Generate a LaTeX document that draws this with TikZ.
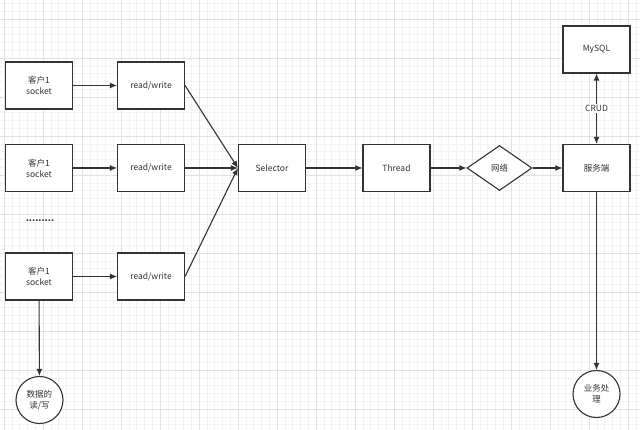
\documentclass[tikz,border=0pt]{standalone}
\usepackage{fontspec}
\setmainfont{Noto Sans CJK SC}
\usetikzlibrary{arrows.meta,shapes.geometric}
\definecolor{ink}{HTML}{333333}
\definecolor{gridminor}{HTML}{F3F3F3}
\definecolor{gridmajor}{HTML}{E2E2E2}
\tikzset{
  lbl/.style={font=\fontsize{8.5}{11}\selectfont, text=ink},
  box/.style={draw=ink, line width=1.1pt, fill=white, minimum width=67pt, minimum height=47pt, inner sep=0pt, align=center, lbl},
  circ/.style={draw=ink, line width=1.1pt, fill=white, circle, minimum size=47pt, inner sep=0pt, align=center, lbl},
  dia/.style={draw=ink, line width=1.1pt, fill=white, diamond, aspect=1.45, minimum width=65pt, minimum height=45pt, inner sep=0pt, lbl},
  conn/.style={draw=ink, line width=1.1pt, -{Latex[length=7pt,width=6pt]}},
  conn2/.style={draw=ink, line width=1.1pt, {Latex[length=7pt,width=6pt]}-{Latex[length=7pt,width=6pt]}}
}
\begin{document}
\begin{tikzpicture}[x=1pt,y=-1pt]
\useasboundingbox (0,0) rectangle (640,430);
\fill[white] (0,0) rectangle (640,430);
\foreach \i in {0,...,82} {
  \draw[gridminor, line width=0.5pt] ({4+7.8*\i},0) -- ({4+7.8*\i},430);
}
\foreach \i in {0,...,55} {
  \draw[gridminor, line width=0.5pt] (0,{3.4+7.8*\i}) -- (640,{3.4+7.8*\i});
}
\foreach \i in {0,...,16} {
  \draw[gridmajor, line width=0.6pt] ({4+39*\i},0) -- ({4+39*\i},430);
}
\foreach \i in {0,...,11} {
  \draw[gridmajor, line width=0.6pt] (0,{19+39*\i}) -- (640,{19+39*\i});
}

\node[box] (c1) at (39,85.5) {客户1\\socket};
\node[box] (rw1) at (151,85.5) {read/write};
\node[box] (c2) at (39,168) {客户1\\socket};
\node[box] (rw2) at (151,168) {read/write};
\node[box] (c3) at (39,276.5) {客户1\\socket};
\node[box] (rw3) at (151,276.5) {read/write};
\node[box] (sel) at (272,168) {Selector};
\node[box] (thr) at (396.5,168) {Thread};
\node[dia] (net) at (499.5,168) {网络};
\node[box] (srv) at (596.5,168) {服务端};
\node[box] (sql) at (596.5,49.5) {MySQL};
\node[circ] (rwc) at (39.5,400) {数据的\\读/写};
\node[circ] (biz) at (596.5,394) {业务处\\理};
\node[font=\fontsize{9}{9}\selectfont\bfseries, text=ink] (dots) at (40,221) {.........};

\draw[conn] (c1) -- (rw1);
\draw[conn] (c2) -- (rw2);
\draw[conn] (c3) -- (rw3);
\draw[conn] (rw1.east) -- (sel.west);
\draw[conn] (rw2.east) -- (sel.west);
\draw[conn] (rw3.east) -- (sel.west);
\draw[conn] (sel) -- (thr);
\draw[conn] (thr) -- (net);
\draw[conn] (net) -- (srv);
\draw[conn2] (sql) -- node[fill=white, inner sep=1.5pt, lbl] (crud) {CRUD} (srv);
\draw[conn] (srv) -- (biz);
\draw[conn] (c3) -- (rwc);
\end{tikzpicture}
\end{document}
